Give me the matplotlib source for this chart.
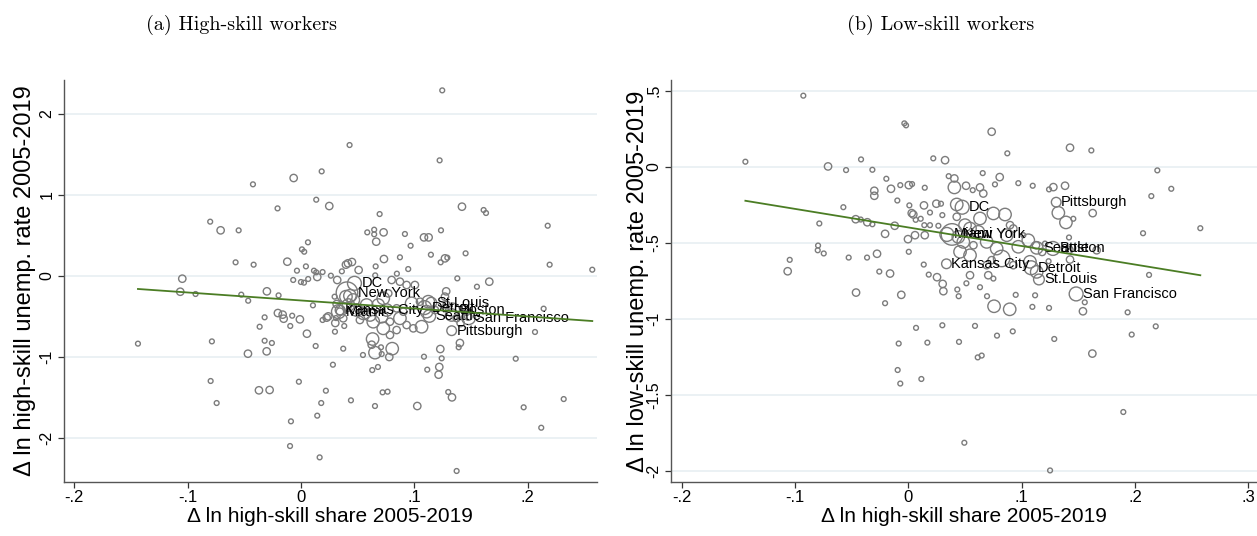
import numpy as np
import matplotlib.pyplot as plt

SANS = ['Liberation Sans', 'DejaVu Sans']

# (a) high-skill workers: d ln high-skill share vs d ln high-skill unemp. rate, weight = pop.
hs_x = [-0.1438, -0.1065, -0.1047, -0.0930, -0.0801, -0.0797, -0.0786, -0.0744, -0.0709, -0.0577,
        -0.0550, -0.0527, -0.0468, -0.0466, -0.0424, -0.0418, -0.0371, -0.0365, -0.0321, -0.0321,
        -0.0303, -0.0301, -0.0277, -0.0257, -0.0207, -0.0204, -0.0198, -0.0162, -0.0153, -0.0121,
        -0.0097, -0.0095, -0.0089, -0.0078, -0.0069, -0.0065, -0.0036, -0.0019, -0.0010, -0.0001,
        0.0008, 0.0026, 0.0028, 0.0043, 0.0052, 0.0061, 0.0063, 0.0105, 0.0114, 0.0129,
        0.0134, 0.0134, 0.0143, 0.0143, 0.0164, 0.0178, 0.0182, 0.0190, 0.0190, 0.0219,
        0.0226, 0.0240, 0.0249, 0.0263, 0.0281, 0.0296, 0.0299, 0.0302, 0.0308, 0.0314,
        0.0319, 0.0343, 0.0360, 0.0372, 0.0372, 0.0381, 0.0396, 0.0396, 0.0414, 0.0417,
        0.0428, 0.0431, 0.0440, 0.0449, 0.0461, 0.0490, 0.0508, 0.0519, 0.0546, 0.0549,
        0.0578, 0.0584, 0.0608, 0.0623, 0.0628, 0.0631, 0.0637, 0.0645, 0.0645, 0.0652,
        0.0652, 0.0654, 0.0658, 0.0663, 0.0678, 0.0681, 0.0693, 0.0705, 0.0710, 0.0711,
        0.0719, 0.0725, 0.0725, 0.0728, 0.0731, 0.0755, 0.0763, 0.0769, 0.0778, 0.0784,
        0.0784, 0.0799, 0.0804, 0.0843, 0.0843, 0.0845, 0.0872, 0.0872, 0.0872, 0.0902,
        0.0916, 0.0931, 0.0931, 0.0945, 0.0966, 0.0975, 0.0990, 0.1004, 0.1025, 0.1049,
        0.1063, 0.1084, 0.1084, 0.1107, 0.1113, 0.1122, 0.1125, 0.1145, 0.1181, 0.1213,
        0.1219, 0.1222, 0.1228, 0.1231, 0.1234, 0.1240, 0.1245, 0.1269, 0.1269, 0.1280,
        0.1284, 0.1290, 0.1298, 0.1328, 0.1331, 0.1372, 0.1372, 0.1378, 0.1390, 0.1401,
        0.1407, 0.1419, 0.1451, 0.1460, 0.1475, 0.1551, 0.1610, 0.1631, 0.1660, 0.1893,
        0.1963, 0.2063, 0.2118, 0.2139, 0.2175, 0.2192, 0.2316, 0.2568]
hs_y = [-0.835, -0.194, -0.033, -0.222, 0.671, -1.296, -0.807, -1.568, 0.564, 0.169,
        0.564, -0.230, -0.959, -0.305, 1.132, 0.140, -1.411, -0.626, -0.510, -0.799,
        -0.930, -0.189, -1.407, -0.827, 0.835, -0.457, -0.239, -0.477, -0.527, 0.177,
        -2.099, -0.617, -1.794, -0.490, -0.049, 1.210, 0.066, -1.305, -0.535, -0.074,
        0.329, -0.082, 0.300, 0.119, -0.712, 0.416, -0.037, -0.362, 0.066, -0.864,
        0.045, 0.942, -0.012, -1.724, -2.239, -1.568, 1.292, 0.049, -0.543, -1.416,
        -0.514, -0.498, 0.864, 0.004, -1.095, -0.255, -0.687, -0.580, -0.519, -0.346,
        -0.049, -0.440, 0.058, -0.897, -0.522, -0.617, 0.140, -0.255, 0.157, -0.358,
        1.617, -0.243, -1.535, 0.173, -0.296, -0.420, 0.074, -0.543, -0.975, -0.461,
        -0.358, 0.539, -0.481, -0.848, -1.161, -0.778, -0.564, 0.572, 0.515, -0.946,
        -1.605, 0.008, 0.119, 0.424, -1.123, -0.358, 0.765, -0.880, -0.502, -0.963,
        -1.436, -0.646, -0.276, 0.539, 0.210, -0.420, -1.428, -0.214, -1.000, -0.564,
        -0.728, -0.049, -0.897, -0.399, -0.667, 0.029, 0.231, -0.070, -0.522, -0.440,
        0.519, -0.111, -0.605, 0.086, 0.374, -0.337, -0.646, -0.111, -1.605, -0.317,
        -0.626, 0.477, -0.996, -0.440, -1.156, -0.317, 0.477, 0.263, -0.420, -1.218,
        -1.123, 1.428, -0.901, 0.169, 0.564, -1.016, 2.292, 0.218, -0.255, -0.189,
        -0.358, 0.226, -1.432, -0.481, -1.498, -0.519, -2.407, -0.029, -0.880, -0.827,
        -0.580, 0.856, 0.280, -0.440, -0.502, -0.132, 0.815, 0.778, -0.070, -1.021,
        -1.621, -0.691, -1.873, -0.403, 0.621, 0.140, -1.519, 0.078]
hs_w = [0.3, 0.7, 0.7, 0.3, 0.3, 0.3, 0.3, 0.3, 0.7, 0.3,
        0.3, 0.3, 0.7, 0.3, 0.3, 0.3, 0.7, 0.3, 0.3, 0.3,
        0.7, 0.7, 0.7, 0.3, 0.3, 0.7, 0.3, 0.7, 0.7, 0.7,
        0.3, 0.3, 0.3, 0.3, 0.3, 0.7, 0.3, 0.3, 0.7, 0.3,
        0.3, 0.3, 0.3, 0.3, 0.7, 0.3, 0.3, 0.3, 0.3, 0.3,
        0.3, 0.3, 0.7, 0.3, 0.3, 0.3, 0.3, 0.3, 0.3, 0.3,
        0.7, 0.7, 0.7, 0.3, 0.3, 0.3, 0.3, 0.7, 0.3, 0.7,
        0.7, 0.7, 0.3, 0.3, 0.7, 0.3, 0.7, 2.0, 0.7, 2.0,
        0.3, 2.0, 0.3, 0.7, 2.0, 2.0, 0.7, 0.7, 0.3, 2.0,
        2.0, 0.3, 2.0, 0.7, 0.3, 2.0, 2.0, 0.3, 0.3, 2.0,
        0.3, 0.3, 0.3, 0.7, 0.3, 2.0, 0.3, 0.3, 2.0, 0.3,
        0.3, 2.0, 2.0, 0.7, 0.7, 2.0, 0.3, 0.7, 0.7, 0.7,
        0.7, 0.7, 2.0, 0.7, 0.7, 0.3, 0.3, 0.7, 2.0, 0.7,
        0.3, 0.7, 0.7, 0.3, 0.3, 2.0, 0.7, 0.7, 0.7, 0.7,
        2.0, 0.7, 0.3, 2.0, 0.3, 2.0, 0.7, 0.3, 0.7, 0.7,
        0.7, 0.3, 0.7, 0.3, 0.3, 0.3, 0.3, 0.7, 0.7, 0.7,
        0.7, 0.3, 0.3, 2.0, 0.7, 0.7, 0.3, 0.3, 0.3, 0.7,
        0.7, 0.7, 0.3, 0.7, 0.7, 0.3, 0.3, 0.3, 0.7, 0.3,
        0.3, 0.3, 0.3, 0.3, 0.3, 0.3, 0.3, 0.3]

# (b) low-skill workers
ls_x = [-0.1437, -0.1064, -0.1046, -0.0926, -0.0799, -0.0796, -0.0785, -0.0746, -0.0708, -0.0573,
        -0.0549, -0.0526, -0.0464, -0.0461, -0.0420, -0.0417, -0.0364, -0.0362, -0.0317, -0.0317,
        -0.0300, -0.0300, -0.0276, -0.0256, -0.0205, -0.0205, -0.0194, -0.0161, -0.0153, -0.0120,
        -0.0097, -0.0094, -0.0085, -0.0071, -0.0071, -0.0062, -0.0035, -0.0020, -0.0003, 0.0004,
        0.0004, 0.0009, 0.0030, 0.0033, 0.0044, 0.0059, 0.0065, 0.0068, 0.0109, 0.0115,
        0.0136, 0.0138, 0.0141, 0.0145, 0.0145, 0.0168, 0.0180, 0.0191, 0.0191, 0.0220,
        0.0247, 0.0253, 0.0265, 0.0288, 0.0300, 0.0300, 0.0303, 0.0309, 0.0324, 0.0356,
        0.0406, 0.0406, 0.0427, 0.0427, 0.0432, 0.0441, 0.0444, 0.0447, 0.0456, 0.0485,
        0.0494, 0.0500, 0.0509, 0.0512, 0.0544, 0.0544, 0.0544, 0.0568, 0.0574, 0.0588,
        0.0612, 0.0617, 0.0632, 0.0632, 0.0632, 0.0647, 0.0656, 0.0661, 0.0691, 0.0691,
        0.0694, 0.0705, 0.0735, 0.0735, 0.0750, 0.0750, 0.0756, 0.0764, 0.0779, 0.0782,
        0.0806, 0.0823, 0.0853, 0.0868, 0.0873, 0.0894, 0.0897, 0.0921, 0.0926, 0.0926,
        0.0947, 0.0970, 0.0970, 0.1014, 0.1058, 0.1073, 0.1094, 0.1097, 0.1118, 0.1126,
        0.1132, 0.1180, 0.1205, 0.1237, 0.1241, 0.1241, 0.1250, 0.1279, 0.1287, 0.1323,
        0.1382, 0.1390, 0.1417, 0.1420, 0.1426, 0.1426, 0.1455, 0.1540, 0.1556, 0.1614,
        0.1623, 0.1626, 0.1661, 0.1896, 0.1934, 0.1970, 0.2070, 0.2123, 0.2143, 0.2182,
        0.2196, 0.2319, 0.2575]
ls_y = [0.033, -0.687, -0.612, 0.467, -0.549, -0.518, -0.373, -0.570, 0.002, -0.266,
        -0.022, -0.597, -0.345, -0.827, -0.347, 0.048, -0.597, -0.365, -0.020, -0.378,
        -0.158, -0.191, -0.572, -0.689, -0.441, -0.897, -0.079, -0.702, -0.145, -0.388,
        -0.222, -1.336, -1.162, -0.121, -1.425, -0.842, 0.285, 0.272, -0.476, -0.121,
        -0.559, -0.254, -0.305, -0.114, -0.314, -0.450, -0.349, -1.059, -0.342, -1.395,
        -0.643, -0.254, -0.384, -0.138, -0.450, -1.156, -0.709, -0.301, -0.384, 0.055,
        -0.243, -0.726, -0.388, -0.243, -0.318, -1.042, -0.770, -0.818, 0.043, -0.062,
        -0.077, -0.136, -0.248, -0.329, -0.807, -0.461, -0.851, -1.151, -0.559, -0.494,
        -1.814, -0.384, -0.125, -0.766, -0.406, -0.582, -0.713, -0.154, -0.516, -1.046,
        -1.253, -0.428, -0.136, -0.340, -0.792, -1.241, -0.042, -0.176, -0.494, -0.647,
        -0.851, -0.713, 0.230, -0.614, -0.307, -0.735, -0.917, -0.116, -0.538, -1.110,
        -0.068, -0.603, -0.314, -0.450, 0.088, -0.937, -0.384, -1.082, -0.406, -0.647,
        -0.842, -0.108, -0.526, -0.450, -0.483, -0.625, -0.921, -0.125, -0.845, -0.516,
        -0.691, -0.560, -0.505, -0.621, -0.149, -0.928, -1.996, -0.134, -1.132, -0.303,
        -0.125, -0.366, -0.465, -0.545, 0.125, -0.610, -0.342, -0.950, -0.891, 0.107,
        -1.228, -0.305, -0.549, -1.612, -0.957, -1.103, -0.437, -0.711, -0.193, -1.049,
        -0.024, -0.145, -0.404]
ls_w = [0.3, 0.7, 0.3, 0.3, 0.3, 0.3, 0.3, 0.3, 0.7, 0.3,
        0.3, 0.3, 0.7, 0.7, 0.3, 0.3, 0.3, 0.7, 0.3, 0.3,
        0.7, 0.7, 0.7, 0.3, 0.7, 0.3, 0.3, 0.7, 0.7, 0.7,
        0.3, 0.3, 0.3, 0.3, 0.3, 0.7, 0.3, 0.3, 0.7, 0.7,
        0.3, 0.3, 0.7, 0.3, 0.7, 0.7, 0.3, 0.3, 0.3, 0.3,
        0.3, 0.7, 0.3, 0.3, 0.7, 0.3, 0.3, 0.3, 0.3, 0.3,
        0.7, 0.7, 0.3, 0.3, 0.3, 0.3, 0.7, 0.7, 0.7, 0.3,
        0.7, 2.0, 2.0, 0.7, 0.3, 2.0, 0.3, 0.3, 2.0, 2.0,
        0.3, 2.0, 0.7, 0.3, 2.0, 2.0, 0.7, 0.3, 0.7, 0.3,
        0.3, 2.0, 0.7, 2.0, 0.3, 0.3, 0.3, 0.7, 2.0, 0.7,
        0.3, 0.7, 0.7, 0.7, 2.0, 0.3, 2.0, 0.3, 2.0, 0.3,
        0.7, 3.5, 2.0, 2.0, 0.3, 2.0, 0.7, 0.3, 0.7, 0.7,
        0.3, 0.3, 2.0, 0.3, 2.0, 2.0, 0.3, 0.3, 0.3, 0.7,
        2.0, 0.7, 0.3, 0.3, 0.3, 0.3, 0.3, 0.7, 0.3, 2.0,
        0.7, 2.0, 0.3, 0.7, 0.7, 0.7, 0.3, 0.7, 0.3, 0.3,
        0.7, 0.7, 0.7, 0.3, 0.3, 0.3, 0.3, 0.3, 0.3, 0.3,
        0.3, 0.3, 0.3]

# labelled metros
hs_city = ['DC', 'New York', 'Kansas City', 'Miami', 'St.Louis', 'Detroit', 'Boston',
           'Seattle', 'San Francisco', 'Pittsburgh']
hs_city_x = [0.0471, 0.0405, 0.0344, 0.0330, 0.1148, 0.1089, 0.1337, 0.1132, 0.1477, 0.1328]
hs_city_y = [-0.090, -0.206, -0.420, -0.440, -0.330, -0.390, -0.420, -0.494, -0.514, -0.675]
hs_city_w = [2.5, 6.0, 1.2, 2.5, 1.5, 2.5, 2.5, 2.0, 2.5, 1.2]

ls_city = ['Pittsburgh', 'DC', 'Miami', 'New York', 'Kansas City', 'Seattle', 'Boston',
           'Detroit', 'St.Louis', 'San Francisco']
ls_city_x = [0.1304, 0.0475, 0.0340, 0.0385, 0.0336, 0.1132, 0.1275, 0.1083, 0.1152, 0.1480]
ls_city_y = [-0.233, -0.266, -0.445, -0.445, -0.638, -0.533, -0.537, -0.664, -0.741, -0.836]
ls_city_w = [1.2, 2.5, 2.5, 6.0, 1.2, 2.0, 2.5, 2.5, 1.5, 2.5]

# weighted linear fits (slope, intercept)
hs_fit = (-0.988, -0.302)
ls_fit = (-1.220, -0.399)

x_ticks = [-0.2, -0.1, 0, 0.1, 0.2, 0.3]
x_ticklabels = ['-.2', '-.1', '0', '.1', '.2', '.3']
hs_yticks = [-2, -1, 0, 1, 2]
hs_yticklabels = ['-2', '-1', '0', '1', '2']
ls_yticks = [-2, -1.5, -1, -0.5, 0, 0.5]
ls_yticklabels = ['-2', '-1.5', '-1', '-.5', '0', '.5']

GREY = '#7c7c7c'
GREEN = '#4b7d24'
W_SCALE = 40


def panel(ax, x, y, w, cx, cy, cw, names, fit, yticks, yticklabels, ylabel, xlim, ylim):
    x, y, w = np.array(x), np.array(y), np.array(w)
    allx = np.concatenate([x, cx])
    ally = np.concatenate([y, cy])
    allw = np.concatenate([w, cw])
    ax.scatter(allx, ally, s=W_SCALE * allw, facecolors='none', edgecolors=GREY,
               linewidths=1.0, zorder=3)
    for name, px, py, pw in zip(names, cx, cy, cw):
        r = np.sqrt(W_SCALE * pw) / 2
        ax.annotate(name, (px, py), xytext=(r, 0), textcoords='offset points',
                    ha='left', va='center', fontsize=10.5, family=SANS, color='black', zorder=4)
    xs = np.array([allx.min(), allx.max()])
    ax.plot(xs, fit[0] * xs + fit[1], color=GREEN, lw=1.3, zorder=5)

    ax.set_xticks(x_ticks)
    ax.set_xticklabels(x_ticklabels, fontsize=12, family=SANS)
    ax.set_yticks(yticks)
    ax.set_yticklabels(yticklabels, rotation=90, va='center', fontsize=11.5, family=SANS)
    ax.set_xlim(*xlim)
    ax.set_ylim(*ylim)
    ax.tick_params(direction='out', length=4, width=0.9, color='#333333', pad=2)
    ax.tick_params(axis='y', pad=3)
    ax.yaxis.grid(True, color='#e6eef1', lw=1.1)
    ax.set_axisbelow(True)
    for side in ['top', 'right']:
        ax.spines[side].set_visible(False)
    for side in ['left', 'bottom']:
        ax.spines[side].set_color('#555555')
        ax.spines[side].set_linewidth(1.0)
    ax.set_xlabel('Δ ln high-skill share 2005-2019', fontsize=15, family=SANS)
    ax.set_ylabel(ylabel, fontsize=17, family=SANS)


fig = plt.figure(figsize=(12.57, 5.36), dpi=100)
W, H = 1257, 536
ax1 = fig.add_axes([64 / W, 54 / H, (596.7 - 64) / W, 402 / H])
ax2 = fig.add_axes([671 / W, 54 / H, (W - 671) / W, 402 / H])

panel(ax1, hs_x, hs_y, hs_w, hs_city_x, hs_city_y, hs_city_w, hs_city, hs_fit,
      hs_yticks, hs_yticklabels, 'Δ ln high-skill unemp. rate 2005-2019',
      (-0.209, 0.2607), (-2.543, 2.42))
panel(ax2, ls_x, ls_y, ls_w, ls_city_x, ls_city_y, ls_city_w, ls_city, ls_fit,
      ls_yticks, ls_yticklabels, 'Δ ln low-skill unemp. rate 2005-2019',
      (-0.2093, 0.3075), (-2.072, 0.570))

ax1.yaxis.set_label_coords(-0.0535, 0.5)
ax2.yaxis.set_label_coords(-0.0367, 0.5)
ax1.xaxis.set_label_coords(0.5, -0.063)
ax2.xaxis.set_label_coords(0.5, -0.063)

fig.text(242 / W, 1 - 25 / H, '(a) High-skill workers', ha='center', va='center',
         fontsize=14.5, family='cmr10')
fig.text(941 / W, 1 - 25 / H, '(b) Low-skill workers', ha='center', va='center',
         fontsize=14.5, family='cmr10')

fig.savefig('out.png', dpi=100)
